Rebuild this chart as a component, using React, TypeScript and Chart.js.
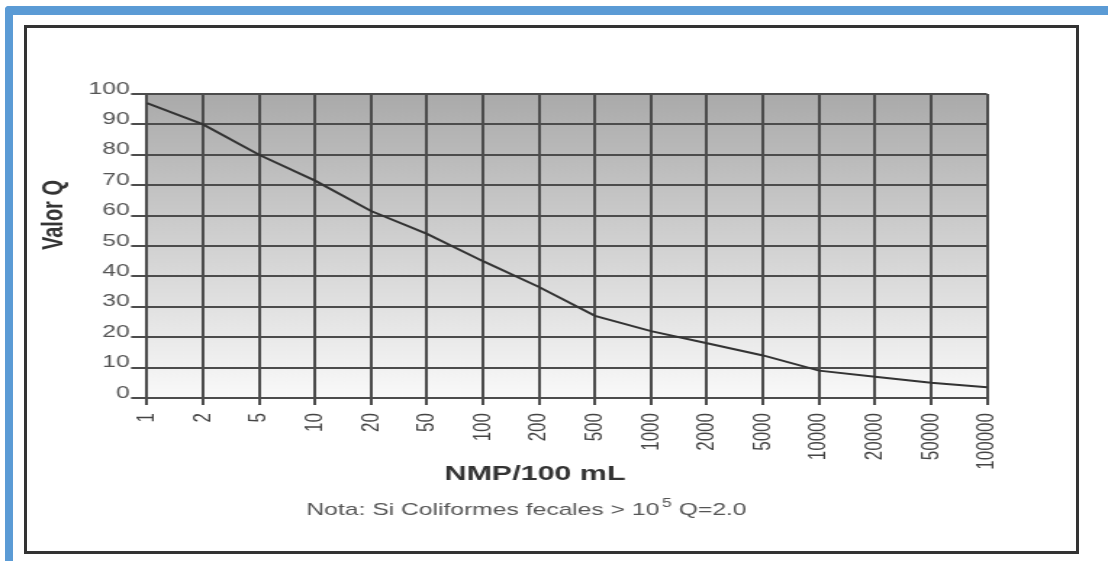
import React, { useEffect, useRef } from "react";
import { Chart, registerables } from "chart.js";

Chart.register(...registerables);

// ---- data ----
const categories = ["1", "2", "5", "10", "20", "50", "100", "200", "500", "1000", "2000", "5000", "10000", "20000", "50000", "100000"];
const qValues = [97, 90, 80, 71.5, 61.5, 54, 45, 36.5, 27, 22, 18, 14, 9, 7, 5, 3.5];
const yMin = 0;
const yMax = 100;
const yStep = 10;
const yTitle = "Valor Q";
const xTitle = "NMP/100 mL";
const noteMain = "Nota: Si Coliformes fecales > 10";
const noteSup = "5";
const noteTail = " Q=2.0";

// ---- layout (canvas is drawn narrow and stretched horizontally like the source image) ----
const CW = 764;
const CH = 561;
const STRETCH = 1108 / CW;
const FONT = '"Liberation Sans", Arial, Helvetica, sans-serif';

const bgPlugin = {
  id: "plotBg",
  beforeDraw(chart: any) {
    const { ctx, chartArea: a } = chart;
    const g = ctx.createLinearGradient(0, a.top, 0, a.bottom);
    g.addColorStop(0, "#aaaaaa");
    g.addColorStop(1, "#f9f9f9");
    ctx.save();
    ctx.fillStyle = g;
    ctx.fillRect(a.left, a.top, a.right - a.left, a.bottom - a.top);
    ctx.restore();
  },
};

const textPlugin = {
  id: "titles",
  afterDraw(chart: any) {
    const { ctx } = chart;
    ctx.save();
    ctx.translate(54 / STRETCH, 215);
    ctx.rotate(-Math.PI / 2);
    ctx.font = `bold 20px ${FONT}`;
    ctx.fillStyle = "#333";
    ctx.textAlign = "center";
    ctx.textBaseline = "middle";
    ctx.fillText(yTitle, 0, 0);
    ctx.restore();

    ctx.save();
    ctx.font = `bold 21px ${FONT}`;
    ctx.fillStyle = "#333";
    ctx.textAlign = "center";
    ctx.textBaseline = "middle";
    ctx.fillText(xTitle, 535 / STRETCH, 474);
    ctx.restore();

    ctx.save();
    ctx.fillStyle = "#555";
    ctx.textBaseline = "middle";
    ctx.textAlign = "left";
    const mainFont = `17px ${FONT}`;
    const supFont = `12px ${FONT}`;
    ctx.font = mainFont;
    const w1 = ctx.measureText(noteMain).width;
    const w3 = ctx.measureText(noteTail).width;
    ctx.font = supFont;
    const w2 = ctx.measureText(noteSup).width;
    const gap = 2;
    const total = w1 + gap + w2 + w3;
    let x = 526.5 / STRETCH - total / 2;
    const y = 510;
    ctx.font = mainFont;
    ctx.fillText(noteMain, x, y);
    x += w1 + gap;
    ctx.font = supFont;
    ctx.fillText(noteSup, x, y - 6);
    x += w2;
    ctx.font = mainFont;
    ctx.fillText(noteTail, x, y);
    ctx.restore();
  },
};

function ChartCanvas() {
  const ref = useRef<HTMLCanvasElement | null>(null);
  useEffect(() => {
    if (!ref.current) return;
    const gridColor = "#4c4c4c";
    const chart = new Chart(ref.current, {
      type: "line",
      data: {
        labels: categories,
        datasets: [
          {
            data: qValues,
            borderColor: "#333333",
            borderWidth: 2,
            pointRadius: 0,
            tension: 0,
            fill: false,
          },
        ],
      },
      options: {
        animation: false,
        responsive: false,
        devicePixelRatio: 1,
        layout: { padding: { left: 0, top: 94, right: CW - 987 / STRETCH, bottom: 0 } },
        plugins: { legend: { display: false }, tooltip: { enabled: false }, title: { display: false } },
        scales: {
          x: {
            type: "category",
            offset: false,
            grid: { color: gridColor, lineWidth: 2, drawTicks: true, tickLength: 7, offset: false },
            border: { display: true, color: gridColor, width: 2 },
            ticks: {
              autoSkip: false,
              maxRotation: 90,
              minRotation: 90,
              padding: 8,
              color: "#444",
              font: { family: FONT, size: 17 },
            },
            afterFit: (scale: any) => {
              scale.height = CH - 398;
            },
          },
          y: {
            min: yMin,
            max: yMax,
            grid: { color: gridColor, lineWidth: 2, drawTicks: true, tickLength: 11 },
            border: { display: true, color: gridColor, width: 2 },
            ticks: {
              stepSize: yStep,
              padding: 1,
              labelOffset: -5,
              color: "#555",
              font: { family: FONT, size: 17 },
            },
            afterFit: (scale: any) => {
              scale.width = 147 / STRETCH;
            },
          },
        },
      },
      plugins: [bgPlugin, textPlugin],
    });
    return () => chart.destroy();
  }, []);
  return (
    <canvas
      ref={ref}
      width={CW}
      height={CH}
      style={{ display: "block", width: CW + "px", height: CH + "px" }}
    />
  );
}

export default function App() {
  return (
    <div style={{ position: "fixed", left: 0, top: 0, width: 1108, height: 561, background: "#fff", overflow: "hidden" }}>
      <div
        style={{
          position: "absolute",
          left: 5,
          top: 6,
          width: 1110,
          height: 560,
          borderTop: "9px solid #5b9bd5",
          borderLeft: "8px solid #5b9bd5",
          borderTopLeftRadius: 4,
          boxSizing: "border-box",
        }}
      />
      <div
        style={{
          position: "absolute",
          left: 24,
          top: 25,
          width: 1055,
          height: 529,
          border: "3px solid #333",
          boxSizing: "border-box",
        }}
      />
      <div
        style={{
          position: "absolute",
          left: 0,
          top: 0,
          width: CW,
          height: CH,
          transform: `scaleX(${STRETCH})`,
          transformOrigin: "0 0",
        }}
      >
        <ChartCanvas />
      </div>
    </div>
  );
}
